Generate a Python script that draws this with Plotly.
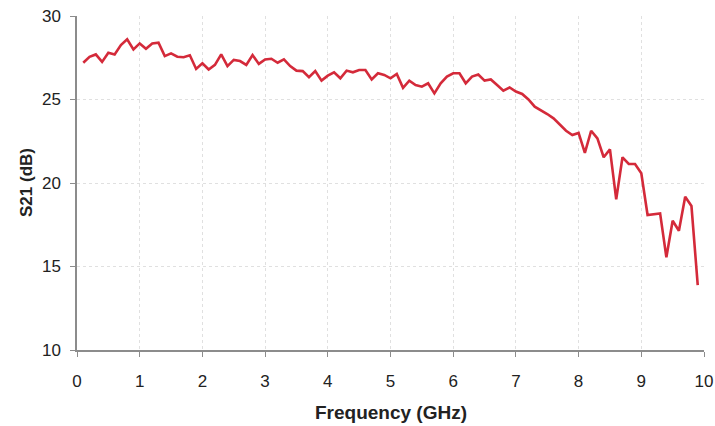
import plotly.graph_objects as go

freq_ghz = [0.1, 0.2, 0.3, 0.4, 0.5, 0.6, 0.7, 0.8, 0.9, 1.0,
            1.1, 1.2, 1.3, 1.4, 1.5, 1.6, 1.7, 1.8, 1.9, 2.0,
            2.1, 2.2, 2.3, 2.4, 2.5, 2.6, 2.7, 2.8, 2.9, 3.0,
            3.1, 3.2, 3.3, 3.4, 3.5, 3.6, 3.7, 3.8, 3.9, 4.0,
            4.1, 4.2, 4.3, 4.4, 4.5, 4.6, 4.7, 4.8, 4.9, 5.0,
            5.1, 5.2, 5.3, 5.4, 5.5, 5.6, 5.7, 5.8, 5.9, 6.0,
            6.1, 6.2, 6.3, 6.4, 6.5, 6.6, 6.7, 6.8, 6.9, 7.0,
            7.1, 7.2, 7.3, 7.4, 7.5, 7.6, 7.7, 7.8, 7.9, 8.0,
            8.1, 8.2, 8.3, 8.4, 8.5, 8.6, 8.7, 8.8, 8.9, 9.0,
            9.1, 9.2, 9.3, 9.4, 9.5, 9.6, 9.7, 9.8, 9.9]

s21_db = [27.2, 27.56, 27.7, 27.25, 27.8, 27.7, 28.26, 28.6, 28.0, 28.36,
          28.04, 28.36, 28.4, 27.6, 27.76, 27.56, 27.53, 27.65, 26.83, 27.17,
          26.8, 27.07, 27.7, 27.0, 27.37, 27.3, 27.07, 27.66, 27.13, 27.4,
          27.44, 27.2, 27.4, 27.0, 26.73, 26.7, 26.33, 26.7, 26.13, 26.43,
          26.63, 26.27, 26.73, 26.63, 26.77, 26.77, 26.2, 26.57, 26.47, 26.27,
          26.53, 25.7, 26.13, 25.87, 25.77, 25.97, 25.37, 25.97, 26.37, 26.57,
          26.57, 25.97, 26.37, 26.5, 26.13, 26.2, 25.87, 25.53, 25.72, 25.48,
          25.33, 25.0, 24.57, 24.37, 24.13, 23.87, 23.53, 23.13, 22.87, 23.0,
          21.8, 23.13, 22.67, 21.54, 22.01, 19.02, 21.54, 21.14, 21.14, 20.58,
          18.08, 18.14, 18.18, 15.55, 17.74, 17.14, 19.18, 18.62, 13.89]

x_ticks = [0, 1, 2, 3, 4, 5, 6, 7, 8, 9, 10]
y_ticks = [10, 15, 20, 25, 30]
x_title = "Frequency (GHz)"
y_title = "S21 (dB)"

FONT = "Liberation Sans, Arial, sans-serif"

fig = go.Figure()
fig.add_trace(go.Scatter(
    x=freq_ghz, y=s21_db, mode="lines",
    line=dict(color="#d42a3a", width=2.6),
    showlegend=False,
))

axis_common = dict(
    showline=True, linecolor="#8c8c8c", linewidth=1.5,
    ticks="outside", ticklen=5, tickcolor="#8c8c8c", tickwidth=1.2,
    showgrid=True, gridcolor="#e0e0e0", griddash="dot", gridwidth=1,
    zeroline=False, automargin=False,
    tickfont=dict(family=FONT, size=17, color="#222222"),
)

fig.update_xaxes(
    range=[0, 10], tickvals=x_ticks, ticktext=[str(v) for v in x_ticks],
    ticklabelstandoff=10,
    **axis_common,
)
fig.update_yaxes(
    range=[10, 30], tickvals=y_ticks, ticktext=[str(v) for v in y_ticks],
    ticklabelstandoff=6,
    **axis_common,
)

fig.add_annotation(
    text="<b>" + x_title + "</b>", xref="paper", yref="paper",
    x=0.5, y=0, yshift=-62, xanchor="center", yanchor="middle",
    showarrow=False, font=dict(family=FONT, size=19, color="#222222"),
)
fig.add_annotation(
    text="<b>" + y_title + "</b>", xref="paper", yref="paper",
    x=0, y=0.5, xshift=-51, xanchor="center", yanchor="middle",
    textangle=-90, showarrow=False,
    font=dict(family=FONT, size=17, color="#222222"),
)

fig.update_layout(
    width=715, height=426,
    margin=dict(l=77, r=11, t=16, b=76),
    paper_bgcolor="white", plot_bgcolor="white",
)

fig.write_html(
    "out.html",
    config={"displayModeBar": False},
    post_script="document.body.style.margin='0';document.body.style.overflow='hidden';",
)
